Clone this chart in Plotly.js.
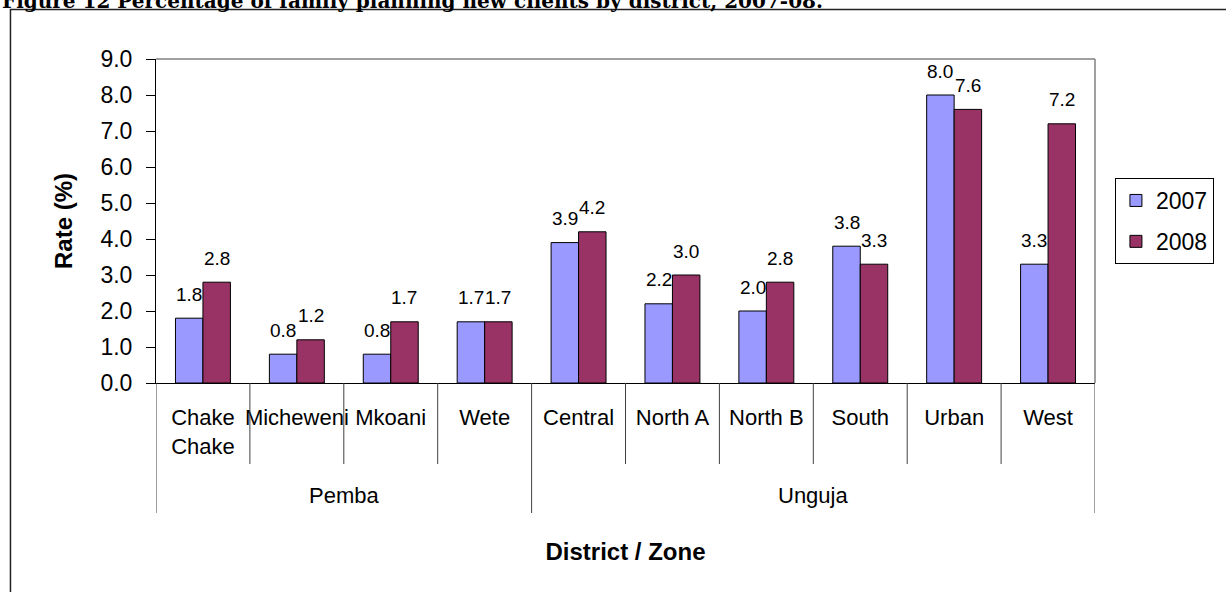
<!DOCTYPE html>
<html><head><meta charset="utf-8">
<script src="https://cdn.plot.ly/plotly-3.0.1.min.js"></script>
<style>html,body{margin:0;padding:0;background:#fff;}#chart{width:1226px;height:592px;}</style>
</head><body><div id="chart"></div>
<script>
// ---- data ----
const districts = ['Chake<br>Chake','Micheweni','Mkoani','Wete','Central','North A','North B','South','Urban','West'];
const zones = ['Pemba','Pemba','Pemba','Pemba','Unguja','Unguja','Unguja','Unguja','Unguja','Unguja'];
const rate2007 = [1.8,0.8,0.8,1.7,3.9,2.2,2.0,3.8,8.0,3.3];
const rate2008 = [2.8,1.2,1.7,1.7,4.2,3.0,2.8,3.3,7.6,7.2];
const seriesNames = ['2007','2008'];
const seriesColors = ['#9999FF','#993366'];
const yTickVals = [0,1,2,3,4,5,6,7,8,9];
const figTitle = 'Figure 12 Percentage of family planning new clients by district, 2007-08.';

// ---- layout geometry (px) ----
const W = 1226, H = 592, L = 156, R = 1098, T = 59, B = 383;
const PW = R - L, PH = B - T;
const FONT = 'Liberation Sans, Arial, sans-serif';
const bargap = 0.415;
const idx = districts.map((_, i) => i);
const px2py = p => (B - p) / PH;   // pixel y -> paper y
const px2px = p => (p - L) / PW;   // pixel x -> paper x

const series = [rate2007, rate2008];
const traces = series.map((vals, s) => ({
  type: 'bar', name: seriesNames[s], x: idx, y: vals,
  legendgroup: 'g' + s,
  marker: {color: seriesColors[s], line: {color: '#000', width: 1}},
  hoverinfo: 'x+y'
}));

const annotations = [];
const barW = (1 - bargap) / 2;
series.forEach((vals, s) => {
  vals.forEach((v, i) => {
    annotations.push({
      x: i + (s - 0.5) * barW, y: v, xref: 'x', yref: 'y',
      text: v.toFixed(1), showarrow: false, yshift: 24, yanchor: 'middle',
      font: {family: FONT, size: 19, color: '#000'}
    });
  });
});

// zone group labels and divider shapes
const shapes = [];
const innerDrop = px2py(464), outerDrop = px2py(513);
for (let i = 0; i <= districts.length; i++) {
  const isGroupEdge = i === 0 || i === districts.length || zones[i] !== zones[i - 1];
  shapes.push({type: 'line', xref: 'x', yref: 'paper', x0: i - 0.5, x1: i - 0.5,
    y0: 0, y1: isGroupEdge ? outerDrop : innerDrop, line: {color: '#404040', width: 1}});
}
const uniqueZones = [...new Set(zones)];
uniqueZones.forEach(z => {
  const ids = idx.filter(i => zones[i] === z);
  const mid = (ids[0] + ids[ids.length - 1]) / 2;
  annotations.push({x: mid, y: px2py(495), xref: 'x', yref: 'paper', text: z, showarrow: false,
    yanchor: 'middle', font: {family: FONT, size: 22, color: '#000'}});
});

// plot area top/right border (gray)
shapes.push({type: 'line', xref: 'paper', yref: 'paper', x0: 0, x1: 1, y0: 1, y1: 1, line: {color: '#808080', width: 1.5}});
shapes.push({type: 'line', xref: 'paper', yref: 'paper', x0: 1, x1: 1, y0: 0, y1: 1, line: {color: '#808080', width: 1.5}});
// outer chart frame
shapes.push({type: 'rect', xref: 'paper', yref: 'paper', x0: px2px(10), x1: px2px(1240), y0: px2py(9.5), y1: px2py(620),
  line: {color: '#222', width: 1.5}, fillcolor: 'rgba(0,0,0,0)'});

// clipped figure caption at the top
annotations.push({x: px2px(0), y: px2py(1), xref: 'paper', yref: 'paper', xanchor: 'left', yanchor: 'middle',
  text: figTitle, showarrow: false, font: {family: 'DejaVu Serif, serif', size: 20, color: '#000', weight: 'bold'}});

const layout = {
  width: W, height: H,
  margin: {l: L, r: W - R, t: T, b: H - B, pad: 0},
  paper_bgcolor: '#fff', plot_bgcolor: '#fff',
  barmode: 'group', bargap: bargap, bargroupgap: 0,
  showlegend: true,
  legend: {x: px2px(1118), y: px2py(178), xanchor: 'left', yanchor: 'top',
    bordercolor: '#000', borderwidth: 1, bgcolor: '#fff',
    traceorder: 'grouped', tracegroupgap: 8,
    font: {family: FONT, size: 23, color: '#000'}},
  xaxis: {
    range: [-0.5, districts.length - 0.5], tickmode: 'array', tickvals: idx, ticktext: districts,
    ticks: '', showgrid: false, zeroline: false, showline: true, linecolor: '#000', linewidth: 1,
    ticklabelstandoff: 15,
    tickfont: {family: FONT, size: 22, color: '#000'},
    title: {text: 'District / Zone', standoff: 85, font: {family: FONT, size: 24, color: '#000', weight: 'bold'}},
    fixedrange: true
  },
  yaxis: {
    range: [0, 9], tickmode: 'array', tickvals: yTickVals, tickformat: '.1f',
    ticks: 'outside', ticklen: 9, tickcolor: '#000', tickwidth: 1,
    ticklabelstandoff: 9,
    showgrid: false, zeroline: false, showline: true, linecolor: '#000', linewidth: 1,
    tickfont: {family: FONT, size: 23, color: '#000'},
    title: {text: 'Rate (%)', standoff: 21, font: {family: FONT, size: 24, color: '#000', weight: 'bold'}},
    fixedrange: true
  },
  shapes: shapes,
  annotations: annotations
};

Plotly.newPlot('chart', traces, layout, {displayModeBar: false, staticPlot: false});
</script>
</body></html>
